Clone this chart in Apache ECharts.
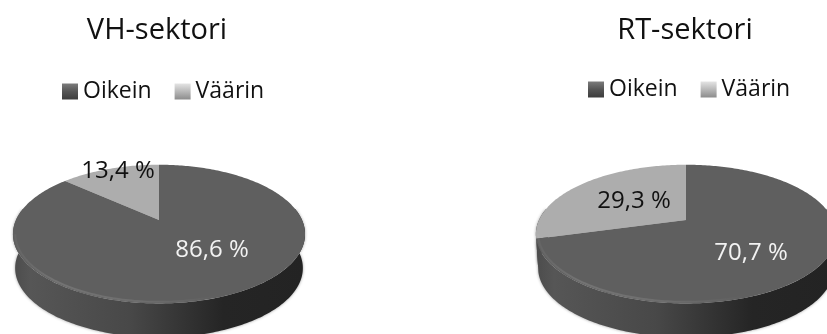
<!DOCTYPE html>
<html><head><meta charset="utf-8">
<style>html,body{margin:0;padding:0;background:#fff}#c{width:827px;height:334px;filter:blur(0.4px)}</style>
<script src="https://cdn.jsdelivr.net/npm/echarts@6/dist/echarts.min.js"></script>
</head><body><div id="c"></div>
<script>
var categories = ['Oikein', 'Väärin'];
var vhValues = [86.6, 13.4];
var rtValues = [70.7, 29.3];
var chartTitles = ['VH-sektori', 'RT-sektori'];
var labelColors = ['#f2f2f2', '#111111'];

var FONT = '"Open Sans", sans-serif';
var K = 0.203;
var pies = [
  {values: vhValues, cx: 159, cy: 220, b: 143, a: 66.5, depth: 34, labels: [[212, 250], [118, 171]], ext: [13, 305]},
  {values: rtValues, cx: 686, cy: 220, b: 147, a: 66.5, depth: 34, labels: [[751, 253], [634, 201]], ext: [536, 836]}
];
var fills = ['#5f5f5f', '#adadad'];

function project(p, deg, scale) {
  var t = deg * Math.PI / 180, s = scale || 1;
  var u = Math.sin(t) * s, v = -Math.cos(t) * s, d = 1 - K * v;
  return [p.cx + p.b * u / d, p.cy + p.a * v / d];
}
function arc(p, a0, a1, scale) {
  var pts = [], n = Math.max(2, Math.ceil(Math.abs(a1 - a0)));
  for (var i = 0; i <= n; i++) pts.push(project(p, a0 + (a1 - a0) * i / n, scale));
  return pts;
}
function sideFill(p, idx) {
  var stops = [{offset: 0, color: '#4c4c4c'}, {offset: .06, color: '#565656'}, {offset: .4, color: '#484848'}, {offset: .72, color: '#252525'}, {offset: 1, color: '#232323'}];
  return {type: 'linear', x: p.ext[0], y: 0, x2: p.ext[1], y2: 0, global: true, colorStops: stops};
}
function makeSeries(p, idx) {
  return {
    type: 'custom',
    name: categories[idx],
    coordinateSystem: 'none',
    animation: false,
    silent: true,
    data: [p.values[idx]],
    renderItem: function (params, api) {
      var before = 0;
      for (var i = 0; i < idx; i++) before += p.values[i];
      var total = p.values.reduce(function (s, x) { return s + x; }, 0);
      var a0 = before / total * 360, a1 = a0 + api.value(0) / total * 360;
      var rim = arc(p, a0, a1);
      var children = [
        {type: 'polygon', z2: 5, shape: {points: [[p.cx, p.cy]].concat(rim)},
         style: {fill: fills[idx]}}
      ];
      var s0 = Math.max(a0, 80), s1 = Math.min(a1, 280);
      if (s1 > s0) {
        var front = arc(p, s0, s1);
        var lower = front.map(function (q) { return [p.cx + (q[0] - p.cx) * 0.985, q[1] + p.depth]; }).reverse();
        children.push({type: 'polygon', z2: 1, shape: {points: front.concat(lower)},
          style: {fill: sideFill(p, idx), shadowBlur: 3, shadowColor: 'rgba(0,0,0,.4)'}});
      }
      var h0 = Math.max(a0, 125), h1 = Math.min(a1, 258);
      if (h1 > h0) {
        children.push({type: 'polyline', z2: 6, shape: {points: arc(p, h0, h1, 0.985)},
          style: {fill: null, lineWidth: 2, stroke: {type: 'linear', x: p.ext[0], y: 0, x2: p.ext[1], y2: 0, global: true,
            colorStops: [{offset: 0, color: 'rgba(255,255,255,.03)'}, {offset: .15, color: 'rgba(255,255,255,.13)'}, {offset: .45, color: 'rgba(255,255,255,.09)'}, {offset: .7, color: 'rgba(255,255,255,0)'}]}}});
      }
      children.push({type: 'text', z2: 10, x: p.labels[idx][0], y: p.labels[idx][1],
        style: {text: String(api.value(0)).replace('.', ',') + ' %', fill: labelColors[idx], font: '24px ' + FONT, align: 'center', verticalAlign: 'middle'}});
      return {type: 'group', children: children};
    }
  };
}
var legendItems = [
  {name: categories[0], itemStyle: {color: {type: 'linear', x: 0, y: 0, x2: 0, y2: 1, colorStops: [{offset: 0, color: '#7c7c7c'}, {offset: .5, color: '#555'}, {offset: 1, color: '#3c3c3c'}]}}},
  {name: categories[1], itemStyle: {color: {type: 'linear', x: 0, y: 0, x2: 0, y2: 1, colorStops: [{offset: 0, color: '#e4e4e4'}, {offset: .5, color: '#b8b8b8'}, {offset: 1, color: '#8c8c8c'}]}}}
];
function legend(left, top) {
  return {left: left, top: top, icon: 'rect', itemWidth: 16, itemHeight: 16, itemGap: 23, itemStyle: {borderWidth: 0}, selectedMode: false, padding: 0,
    textStyle: {fontFamily: FONT, fontSize: 23, color: '#111'}, data: legendItems};
}
var chart = echarts.init(document.getElementById('c'), null, {renderer: 'canvas'});
chart.setOption({
  backgroundColor: '#fff',
  animation: false,
  title: [
    {text: chartTitles[0], left: 157, top: 16, textAlign: 'center', padding: 0, textStyle: {fontFamily: FONT, fontSize: 29, fontWeight: 'normal', color: '#111'}},
    {text: chartTitles[1], left: 685, top: 16, textAlign: 'center', padding: 0, textStyle: {fontFamily: FONT, fontSize: 29, fontWeight: 'normal', color: '#111'}}
  ],
  legend: [legend(62, 80), legend(588, 78)],
  series: [makeSeries(pies[0], 1), makeSeries(pies[0], 0), makeSeries(pies[1], 1), makeSeries(pies[1], 0)]
});
</script></body></html>
